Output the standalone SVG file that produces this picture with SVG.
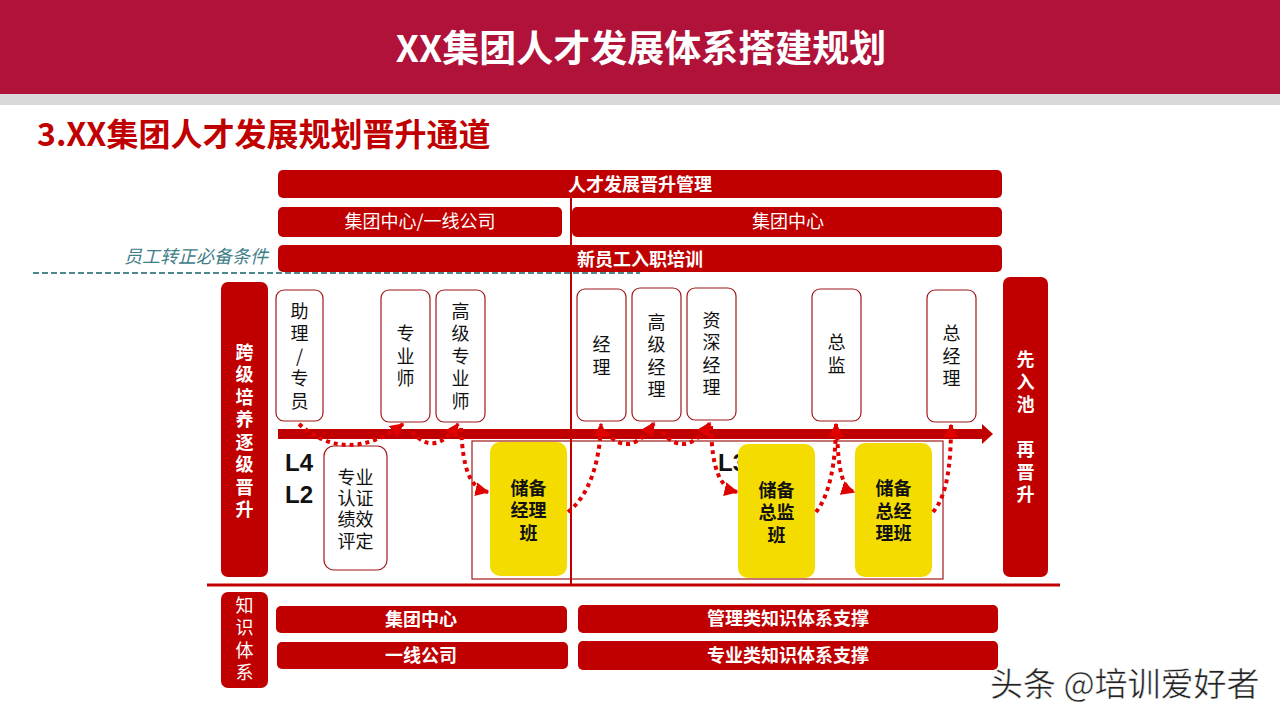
<svg xmlns="http://www.w3.org/2000/svg" width="1280" height="720" viewBox="0 0 1280 720">
<defs>
<style>
.cjk{font-family:"Noto Sans CJK SC","Liberation Sans",sans-serif;}
.bar{fill:#C00000;}
.wb{fill:#fff;font-weight:bold;font-size:18px;text-anchor:middle;}
.wn{fill:#fff;font-size:18px;text-anchor:middle;}
.box{fill:#fff;stroke:#A01818;stroke-width:1.2;}
.vt{fill:#111;font-size:18px;text-anchor:middle;}
.vert{writing-mode:vertical-rl;text-orientation:upright;letter-spacing:4.5px;}
.yb{fill:#F5DC00;}
.yt{fill:#111;font-weight:bold;font-size:18px;text-anchor:middle;}
.dot{fill:none;stroke:#E00000;stroke-width:4;stroke-dasharray:4 4;}
</style>
<marker id="ah" markerUnits="userSpaceOnUse" markerWidth="14" markerHeight="14" viewBox="0 0 10 10" refX="9" refY="5" orient="auto">
<path d="M0,0 L10,5 L0,10 z" fill="#E00000"/>
</marker>
</defs>
<rect x="0" y="0" width="1280" height="720" fill="#fff"/>
<g id="header">
<rect x="0" y="0" width="1280" height="94" fill="#B0123A"/>
<rect x="0" y="94" width="1280" height="11" fill="#D9D9D9"/>
<text x="641" y="62" class="cjk" font-size="37" font-weight="bold" fill="#fff" text-anchor="middle">XX集团人才发展体系搭建规划</text>
<text x="37" y="146" class="cjk" font-size="32" font-weight="bold" fill="#C00000">3.XX集团人才发展规划晋升通道</text>
</g>
<g id="top-rows">
<rect x="278" y="170" width="724" height="28" rx="5" class="bar"/>
<text x="640" y="191" class="cjk wb">人才发展晋升管理</text>
<rect x="278" y="207" width="284" height="30" rx="5" class="bar"/>
<text x="420" y="228" class="cjk wn">集团中心/一线公司</text>
<rect x="572" y="207" width="430" height="30" rx="5" class="bar"/>
<text x="788" y="228" class="cjk wn">集团中心</text>
<rect x="278" y="245" width="724" height="27" rx="5" class="bar"/>
<text x="640" y="266" class="cjk wb">新员工入职培训</text>
<text x="268" y="263" class="cjk" font-size="18" font-style="italic" fill="#3F8088" text-anchor="end">员工转正必备条件</text>
<line x1="33" y1="273" x2="640" y2="273" stroke="#4E8690" stroke-width="2" stroke-dasharray="6 3"/>
</g>
<g id="frame">
<rect x="472" y="441" width="471" height="138" fill="none" stroke="#A01818" stroke-width="1.2"/>
<line x1="571" y1="198" x2="571" y2="584" stroke="#C00000" stroke-width="2"/>
<line x1="207" y1="585" x2="1060" y2="585" stroke="#C00000" stroke-width="3"/>
</g>
<g id="side-left">
<rect x="221" y="282" width="47" height="295" rx="7" class="bar"/>
<text x="244.5" y="433" class="cjk wb vert">跨级培养逐级晋升</text>
</g>
<g id="side-right">
<rect x="1003" y="277" width="45" height="300" rx="7" class="bar"/>
<text x="1025.5" y="429" class="cjk wb vert">先入池 再晋升</text>
</g>
<g id="main-arrow">
<rect x="278" y="429" width="706" height="10" fill="#C00000"/>
<path d="M982,424 L993,434 L982,444 z" fill="#C00000"/>
</g>
<g id="n-zhuli"><rect x="276" y="290" width="47" height="131" rx="8" class="box"/>
<text x="299.5" y="358" class="cjk vt vert">助理/专员</text></g>
<g id="n-zhuanyeshi"><rect x="381" y="290" width="49" height="132" rx="8" class="box"/>
<text x="405.5" y="358" class="cjk vt vert">专业师</text></g>
<g id="n-gaojizhuanyeshi"><rect x="436" y="290" width="49" height="132" rx="8" class="box"/>
<text x="460.5" y="358" class="cjk vt vert">高级专业师</text></g>
<g id="n-jingli"><rect x="577" y="289" width="49" height="132" rx="8" class="box"/>
<text x="601.5" y="358" class="cjk vt vert">经理</text></g>
<g id="n-gaojijingli"><rect x="632" y="288" width="49" height="133" rx="8" class="box"/>
<text x="656.5" y="358" class="cjk vt vert">高级经理</text></g>
<g id="n-zishenjingli"><rect x="687" y="288" width="49" height="132" rx="8" class="box"/>
<text x="711.5" y="356" class="cjk vt vert">资深经理</text></g>
<g id="n-zongjian"><rect x="812" y="289" width="49" height="132" rx="8" class="box"/>
<text x="836.5" y="356" class="cjk vt vert">总监</text></g>
<g id="n-zongjingli"><rect x="927" y="290" width="49" height="132" rx="8" class="box"/>
<text x="951.5" y="358" class="cjk vt vert">总经理</text></g>
<g id="levels">
<text x="285" y="471" font-family="Liberation Sans,sans-serif" font-size="24" font-weight="bold" fill="#111">L4</text>
<text x="285" y="503" font-family="Liberation Sans,sans-serif" font-size="24" font-weight="bold" fill="#111">L2</text>
<text x="718" y="471" font-family="Liberation Sans,sans-serif" font-size="24" font-weight="bold" fill="#111">L3</text>
</g>
<g id="n-renzheng"><rect x="324" y="446" width="63" height="124" rx="10" class="box"/>
<text class="cjk vt" font-size="19"><tspan x="355.5" y="484">专业</tspan><tspan x="355.5" y="505">认证</tspan><tspan x="355.5" y="526">绩效</tspan><tspan x="355.5" y="548">评定</tspan></text></g>
<g id="n-chubeijingli"><rect x="490" y="442" width="77" height="134" rx="10" class="yb"/>
<text class="cjk yt"><tspan x="528.5" y="495">储备</tspan><tspan x="528.5" y="517">经理</tspan><tspan x="528.5" y="540">班</tspan></text></g>
<g id="n-chubeizongjian"><rect x="738" y="444" width="77" height="134" rx="10" class="yb"/>
<text class="cjk yt"><tspan x="776.5" y="497">储备</tspan><tspan x="776.5" y="519">总监</tspan><tspan x="776.5" y="542">班</tspan></text></g>
<g id="n-chubeizongjingli"><rect x="855" y="443" width="77" height="134" rx="10" class="yb"/>
<text class="cjk yt"><tspan x="893.5" y="495">储备</tspan><tspan x="893.5" y="518">总经</tspan><tspan x="893.5" y="540">理班</tspan></text></g>
<g id="connectors">
<path class="dot" d="M299,424 Q347,466 403,424" marker-end="url(#ah)"/>
<path class="dot" d="M412,432 Q435,458 458,424" marker-end="url(#ah)"/>
<path class="dot" d="M461,428 C463,470 470,488 488,492" marker-end="url(#ah)"/>
<path class="dot" d="M568,512 C590,495 600,460 601,424" marker-end="url(#ah)"/>
<path class="dot" d="M606,432 Q630,460 654,423" marker-end="url(#ah)"/>
<path class="dot" d="M662,432 Q686,460 710,423" marker-end="url(#ah)"/>
<path class="dot" d="M711,426 C712,470 720,488 737,492" marker-end="url(#ah)"/>
<path class="dot" d="M816,512 C830,495 836,460 836,424" marker-end="url(#ah)"/>
<path class="dot" d="M837,428 C838,470 842,488 854,492" marker-end="url(#ah)"/>
<path class="dot" d="M933,512 C948,495 951,460 951,425" marker-end="url(#ah)"/>
</g>
<g id="knowledge">
<rect x="221" y="592" width="47" height="96" rx="7" class="bar"/>
<text x="244.5" y="641" class="cjk wn vert">知识体系</text>
<rect x="276" y="606" width="291" height="27" rx="5" class="bar"/>
<text x="421" y="626" class="cjk wb">集团中心</text>
<rect x="277" y="642" width="291" height="27" rx="5" class="bar"/>
<text x="421" y="662" class="cjk wb">一线公司</text>
<rect x="578" y="605" width="420" height="28" rx="5" class="bar"/>
<text x="788" y="625" class="cjk wb">管理类知识体系支撑</text>
<rect x="578" y="641" width="420" height="29" rx="5" class="bar"/>
<text x="788" y="662" class="cjk wb">专业类知识体系支撑</text>
</g>
<g id="watermark">
<text x="990" y="696" class="cjk" font-size="33" fill="#222" stroke="#fff" stroke-width="0.5">头条 @培训爱好者</text>
</g>
</svg>
